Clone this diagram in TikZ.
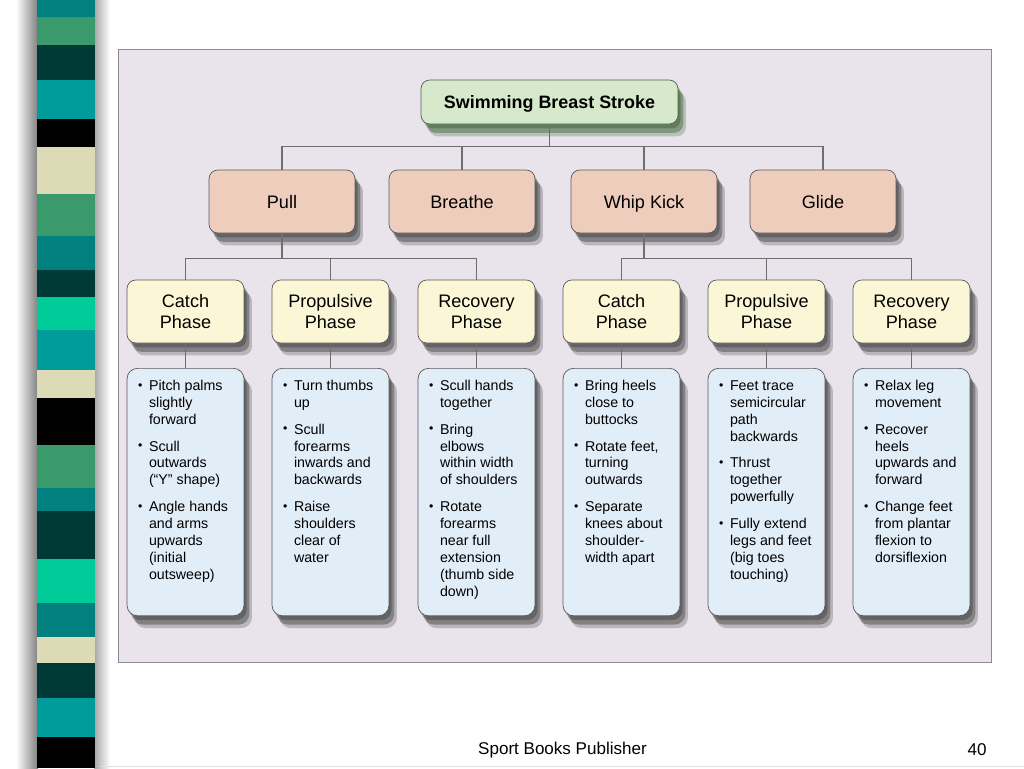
\documentclass[tikz,border=0pt]{standalone}
\usepackage{fontspec}
\setmainfont{Liberation Sans}
\usetikzlibrary{shadows}

\definecolor{tealA}{HTML}{00807E}
\definecolor{tealB}{HTML}{009B9B}
\definecolor{seag}{HTML}{3A9A6C}
\definecolor{darkt}{HTML}{003A36}
\definecolor{beige}{HTML}{DDDBB6}
\definecolor{aqua}{HTML}{00CC99}
\definecolor{panelbg}{HTML}{E9E3EB}
\definecolor{panelline}{HTML}{8E8A93}
\definecolor{titlebg}{HTML}{D6E9CA}
\definecolor{titlesh}{HTML}{2F5A28}
\definecolor{movebg}{HTML}{EFCDBD}
\definecolor{phasebg}{HTML}{FBF7D6}
\definecolor{notebg}{HTML}{E1EDF7}
\definecolor{wire}{HTML}{6E6E6E}

\tikzset{
  sh/.style={drop shadow={shadow xshift=1.5pt,shadow yshift=-2.5pt,fill=#1,opacity=.4},
             drop shadow={shadow xshift=3pt,shadow yshift=-5pt,fill=#1,opacity=.4},
             drop shadow={shadow xshift=4.5pt,shadow yshift=-7pt,fill=#1,opacity=.25}},
  sh/.default=black!80
}

\newcommand\bul[1]{\par\hangindent=0.24cm\hangafter=1\noindent
  \makebox[0.24cm][l]{\hspace{0.02cm}\raisebox{0.15ex}{\fontsize{7}{7}\selectfont\textbullet}}\strut#1\par\vspace{0.2cm}}
\newcommand\notes[1]{\parbox[c][4.55cm][t]{2.34cm}{\raggedright\leftskip=0.2cm
  \fontsize{8.1}{9.64}\selectfont#1}}

\begin{document}
\begin{tikzpicture}[x=0.02cm,y=-0.02cm]
\useasboundingbox (0,0) rectangle (1024,768);
\fill[white] (0,0) rectangle (1024,768);

% slide decoration
\shade[left color=white,right color=black!50] (16,0) rectangle (38,768);
\shade[left color=black!35,right color=white] (94,0) rectangle (110,768);
\foreach \ya/\yb/\c in {0/17/tealA,17/45/seag,45/80/darkt,80/119/tealB,119/147/black,
    147/194/beige,194/236/seag,236/270/tealA,270/297/darkt,297/330/aqua,330/370/tealB,
    370/398/beige,398/445/black,445/488/seag,488/511/tealA,511/559/darkt,559/603/aqua,
    603/637/tealA,637/663/beige,663/698/darkt,698/737/tealB,737/768/black}
  \fill[\c] (37,\ya) rectangle (95,\yb);
\draw[black!12] (100,766) -- (1024,766);
\draw[panelline,fill=panelbg] (118,49) rectangle (991,662);

\begin{scope}[every node/.style={rectangle,rounded corners=5pt,draw=black!65,
    fill=titlebg,sh=titlesh,font=\fontsize{10.2}{12}\selectfont\bfseries,
    text height=7.4pt,text depth=0pt,minimum width=5.14cm,minimum height=0.88cm}]
    \node (stroke) at (549.5,102) {Swimming Breast Stroke};
\end{scope}
\begin{scope}[every node/.style={rectangle,rounded corners=5pt,draw=black!65,
    fill=movebg,sh,font=\fontsize{10.3}{12}\selectfont,
    text height=7.4pt,text depth=0pt,minimum width=2.92cm,minimum height=1.26cm}]
    \node (pull) at (282,201.5) {Pull};
    \node (breathe) at (462,201.5) {Breathe};
    \node (kick) at (644,201.5) {Whip Kick};
    \node (glide) at (823,201.5) {Glide};
\end{scope}
\begin{scope}[every node/.style={rectangle,rounded corners=5pt,draw=black!65,
    fill=phasebg,sh,align=center,font=\fontsize{10.3}{11.9}\selectfont,
    minimum width=2.34cm,minimum height=1.26cm}]
    \node (pcatch) at (185.5,311.5) {Catch\\Phase};
    \node (pprop) at (330.5,311.5) {Propulsive\\Phase};
    \node (precov) at (476.5,311.5) {Recovery\\Phase};
    \node (kcatch) at (621.5,311.5) {Catch\\Phase};
    \node (kprop) at (766.5,311.5) {Propulsive\\Phase};
    \node (krecov) at (911.5,311.5) {Recovery\\Phase};
\end{scope}
\begin{scope}[every node/.style={rectangle,rounded corners=6pt,draw=black!65,
    fill=notebg,sh,anchor=north,inner xsep=0pt,inner ysep=0.2cm}]
    \node (pcatchn) at (185.5,368) {\notes{\bul{Pitch palms\newline slightly\newline forward}
      \bul{Scull\newline outwards\newline (“Y” shape)}
      \bul{Angle hands\newline and arms\newline upwards\newline (initial\newline outsweep)}}};
    \node (pprop n) at (330.5,368) {\notes{\bul{Turn thumbs\newline up}
      \bul{Scull\newline forearms\newline inwards and\newline backwards}
      \bul{Raise\newline shoulders\newline clear of\newline water}}};
    \node (precovn) at (476.5,368) {\notes{\bul{Scull hands\newline together}
      \bul{Bring\newline elbows\newline within width\newline of shoulders}
      \bul{Rotate\newline forearms\newline near full\newline extension\newline (thumb side\newline down)}}};
    \node (kcatchn) at (621.5,368) {\notes{\bul{Bring heels\newline close to\newline buttocks}
      \bul{Rotate feet,\newline turning\newline outwards}
      \bul{Separate\newline knees about\newline shoulder-\newline width apart}}};
    \node (kpropn) at (766.5,368) {\notes{\bul{Feet trace\newline semicircular\newline path\newline backwards}
      \bul{Thrust\newline together\newline powerfully}
      \bul{Fully extend\newline legs and feet\newline (big toes\newline touching)}}};
    \node (krecovn) at (911.5,368) {\notes{\bul{Relax leg\newline movement}
      \bul{Recover\newline heels\newline upwards and\newline forward}
      \bul{Change feet\newline from plantar\newline flexion to\newline dorsiflexion}}};
\end{scope}

% connectors
\begin{scope}[wire,line width=0.6pt]
    \foreach \n in {pull,breathe,kick,glide}
      \draw (stroke.south) -- ++(0,22) -| (\n.north);
    \foreach \n in {pcatch,pprop,precov}
      \draw (pull.south) -- ++(0,25) -| (\n.north);
    \foreach \n in {kcatch,kprop,krecov}
      \draw (kick.south) -- ++(0,25) -| (\n.north);
    \draw (pcatch) -- (pcatchn);
    \draw (pprop) -- (pprop n);
    \draw (precov) -- (precovn);
    \draw (kcatch) -- (kcatchn);
    \draw (kprop) -- (kpropn);
    \draw (krecov) -- (krecovn);
\end{scope}

\node[font=\fontsize{9.7}{12}\selectfont] (publisher) at (562.5,750) {Sport Books Publisher};
\node[font=\fontsize{9.7}{12}\selectfont] (page) at (977,750) {40};
\end{tikzpicture}
\end{document}
